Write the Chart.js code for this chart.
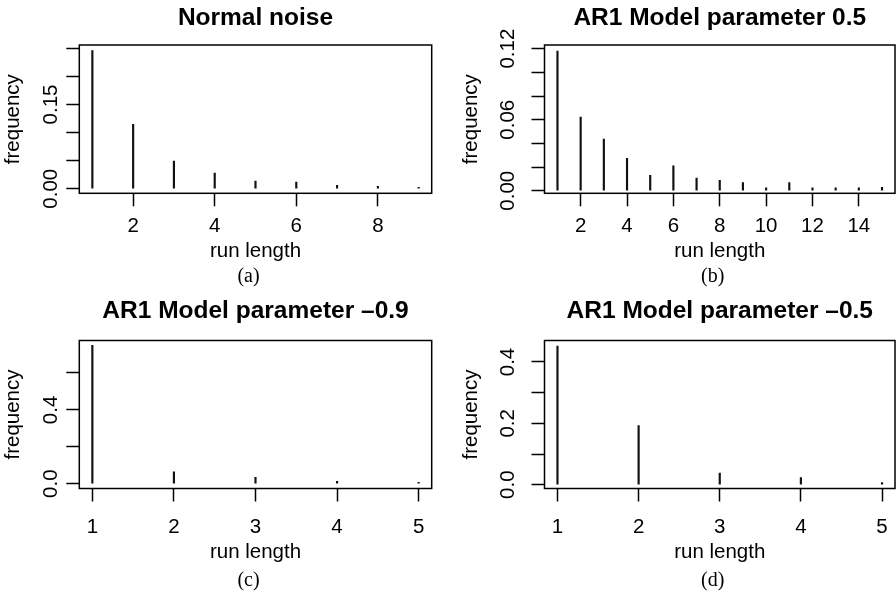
<!DOCTYPE html>
<html><head><meta charset="utf-8">
<script src="https://cdn.jsdelivr.net/npm/chart.js@4.4.1/dist/chart.umd.min.js"></script>
<style>
html,body{margin:0;padding:0;background:#fff;}
#wrap{position:relative;width:896px;height:592px;overflow:hidden;background:#fff;}
canvas{position:absolute;}
</style></head><body>
<div id="wrap">
<canvas id="ca" width="448" height="296" style="left:0;top:0"></canvas>
<canvas id="cb" width="448" height="296" style="left:448px;top:0"></canvas>
<canvas id="cc" width="448" height="296" style="left:0;top:296px"></canvas>
<canvas id="cd" width="448" height="296" style="left:448px;top:296px"></canvas>
</div>
<script>
// ---------------- data ----------------
const xAxisLabel = 'run length';
const yAxisLabel = 'frequency';

const titleA = 'Normal noise';
const captionA = '(a)';
const runLengthA = [1, 2, 3, 4, 5, 6, 7, 8, 9];
const freqA = [0.246, 0.1147, 0.0493, 0.028, 0.0137, 0.012, 0.006, 0.0043, 0.0025];
const xTicksA = [2, 4, 6, 8];
const xTickLabelsA = ['2', '4', '6', '8'];
const yTicksA = [0, 0.05, 0.10, 0.15, 0.20, 0.25];
const yTickLabelsA = ['0.00', '', '', '0.15', '', ''];

const titleB = 'AR1 Model parameter 0.5';
const captionB = '(b)';
const runLengthB = [1, 2, 3, 4, 5, 6, 7, 8, 9, 10, 11, 12, 13, 14, 15];
const freqB = [0.118, 0.0623, 0.0437, 0.0274, 0.013, 0.0211, 0.0107, 0.0088, 0.0068, 0.0025, 0.0068, 0.0025, 0.0025, 0.0025, 0.0029];
const xTicksB = [2, 4, 6, 8, 10, 12, 14];
const xTickLabelsB = ['2', '4', '6', '8', '10', '12', '14'];
const yTicksB = [0, 0.02, 0.04, 0.06, 0.08, 0.10, 0.12];
const yTickLabelsB = ['0.00', '', '', '0.06', '', '', '0.12'];

const titleC = 'AR1 Model parameter \u20130.9';
const captionC = '(c)';
const runLengthC = [1, 2, 3, 4, 5];
const freqC = [0.75, 0.065, 0.034, 0.013, 0.007];
const xTicksC = [1, 2, 3, 4, 5];
const xTickLabelsC = ['1', '2', '3', '4', '5'];
const yTicksC = [0, 0.2, 0.4, 0.6];
const yTickLabelsC = ['0.0', '', '0.4', ''];

const titleD = 'AR1 Model parameter \u20130.5';
const captionD = '(d)';
const runLengthD = [1, 2, 3, 4, 5];
const freqD = [0.452, 0.193, 0.038, 0.023, 0.0065];
const xTicksD = [1, 2, 3, 4, 5];
const xTickLabelsD = ['1', '2', '3', '4', '5'];
const yTicksD = [0, 0.1, 0.2, 0.3, 0.4];
const yTickLabelsD = ['0.0', '', '0.2', '', '0.4'];

// ---------------- layout / style ----------------
const W = 448, H = 296;
const FAMILY = '"Liberation Sans", Arial, Helvetica, sans-serif';
const SERIF = '"Liberation Serif", "Times New Roman", serif';
const FS = 20.5, LH = FS * 1.2, TFS = 24.5, TLH = TFS * 1.2, TL = 13;

const rowTop = {titleMid: 18.2, chartTop: 45, chartBottom: 193.3, tickMid: 225.9, xTitleMid: 251.2, capBase: 281.7};
const rowBottom = {titleMid: 15.5, chartTop: 44.5, chartBottom: 192.5, tickMid: 231.2, xTitleMid: 256.2, capBase: 289.5};
const colLeft = {chartLeft: 79.3, chartRight: 431.7, yLabMid: 51.2, yTitleMid: 12.9};
const colRight = {chartLeft: 96.5, chartRight: 447, yLabMid: 60.4, yTitleMid: 22.9};

function measureWidest(font, texts) {
  const c = document.createElement('canvas').getContext('2d');
  c.font = font;
  return Math.max(0, ...texts.map(t => c.measureText(t).width));
}

const boxPlugin = {
  id: 'rbox',
  afterDraw(chart) {
    const {ctx, chartArea: a} = chart;
    ctx.save();
    ctx.strokeStyle = '#000';
    ctx.lineWidth = 1.5;
    ctx.strokeRect(a.left, a.top, a.right - a.left, a.bottom - a.top);
    ctx.restore();
  }
};

const captionPlugin = {
  id: 'caption',
  afterDraw(chart, args, opts) {
    const {ctx, chartArea: a} = chart;
    ctx.save();
    ctx.font = '20px ' + SERIF;
    ctx.fillStyle = '#000';
    ctx.textAlign = 'center';
    ctx.textBaseline = 'alphabetic';
    ctx.fillText(opts.text, (a.left + a.right) / 2 + opts.dx, opts.y);
    ctx.restore();
  }
};

function makeChart(id, p, row, col) {
  const font = {family: FAMILY, size: FS, lineHeight: 1.2};
  const widest = measureWidest(FS + 'px ' + FAMILY, p.yTickLabels);
  const yPad = col.chartLeft - TL - col.yLabMid - widest / 2;
  const xPad = row.tickMid - row.chartBottom - TL - LH / 2;
  const xTitlePadBottom = H - row.xTitleMid - LH / 2;
  const titlePadTop = row.titleMid - TLH / 2;
  const titlePadBottom = row.chartTop - titlePadTop - TLH;

  return new Chart(document.getElementById(id), {
    type: 'bar',
    data: {
      datasets: [{
        data: p.x.map((x, i) => ({x: x, y: p.y[i]})),
        backgroundColor: '#111',
        borderWidth: 0,
        barThickness: 1.5
      }]
    },
    options: {
      responsive: false,
      animation: false,
      events: [],
      layout: {padding: {left: 0, top: 0, bottom: 0, right: W - col.chartRight}, autoPadding: false},
      plugins: {
        legend: {display: false},
        tooltip: {enabled: false},
        title: {
          display: true, text: p.title, fullSize: false, color: '#000',
          font: {family: FAMILY, size: TFS, weight: 'bold', lineHeight: 1.2},
          padding: {top: titlePadTop, bottom: titlePadBottom}
        },
        caption: {text: p.caption, dx: -7, y: row.capBase}
      },
      scales: {
        x: {
          type: 'linear', min: p.xMin, max: p.xMax, offset: false, bounds: 'data',
          afterBuildTicks: s => { s.ticks = p.xTicks.map(v => ({value: v})); },
          afterFit: s => { s.height = H - row.chartBottom; s.paddingLeft = 0; s.paddingRight = 0; },
          ticks: {
            autoSkip: false, minRotation: 0, maxRotation: 0, padding: xPad, color: '#000', font: font,
            callback: (v, i) => p.xTickLabels[i]
          },
          grid: {display: true, drawOnChartArea: false, drawTicks: true, tickLength: TL, tickWidth: 1.5, tickColor: '#000', offset: false},
          border: {display: false},
          title: {display: true, text: xAxisLabel, color: '#000', font: font, padding: {top: 0, bottom: xTitlePadBottom}}
        },
        y: {
          type: 'linear', min: p.yMin, max: p.yMax, bounds: 'data',
          afterBuildTicks: s => { s.ticks = p.yTicks.map(v => ({value: v})); },
          afterFit: s => { s.width = col.chartLeft; s.paddingTop = 0; s.paddingBottom = 0; },
          ticks: {
            autoSkip: false, minRotation: 90, maxRotation: 90, crossAlign: 'center', padding: yPad,
            color: '#000', font: font,
            callback: (v, i) => p.yTickLabels[i]
          },
          grid: {display: true, drawOnChartArea: false, drawTicks: true, tickLength: TL, tickWidth: 1.5, tickColor: '#000'},
          border: {display: false},
          title: {display: true, text: yAxisLabel, color: '#000', font: font, padding: {top: col.yTitleMid - LH / 2, bottom: 0}}
        }
      }
    },
    plugins: [boxPlugin, captionPlugin]
  });
}

makeChart('ca', {title: titleA, caption: captionA, x: runLengthA, y: freqA, xMin: 0.68, xMax: 9.32, yMin: -0.0082, yMax: 0.256,
  xTicks: xTicksA, xTickLabels: xTickLabelsA, yTicks: yTicksA, yTickLabels: yTickLabelsA}, rowTop, colLeft);
makeChart('cb', {title: titleB, caption: captionB, x: runLengthB, y: freqB, xMin: 0.44, xMax: 15.56, yMin: -0.0022, yMax: 0.1231,
  xTicks: xTicksB, xTickLabels: xTickLabelsB, yTicks: yTicksB, yTickLabels: yTickLabelsB}, rowTop, colRight);
makeChart('cc', {title: titleC, caption: captionC, x: runLengthC, y: freqC, xMin: 0.84, xMax: 5.16, yMin: -0.026, yMax: 0.776,
  xTicks: xTicksC, xTickLabels: xTickLabelsC, yTicks: yTicksC, yTickLabels: yTickLabelsC}, rowBottom, colLeft);
makeChart('cd', {title: titleD, caption: captionD, x: runLengthD, y: freqD, xMin: 0.84, xMax: 5.16, yMin: -0.0124, yMax: 0.470,
  xTicks: xTicksD, xTickLabels: xTickLabelsD, yTicks: yTicksD, yTickLabels: yTickLabelsD}, rowBottom, colRight);
</script>
</body></html>
